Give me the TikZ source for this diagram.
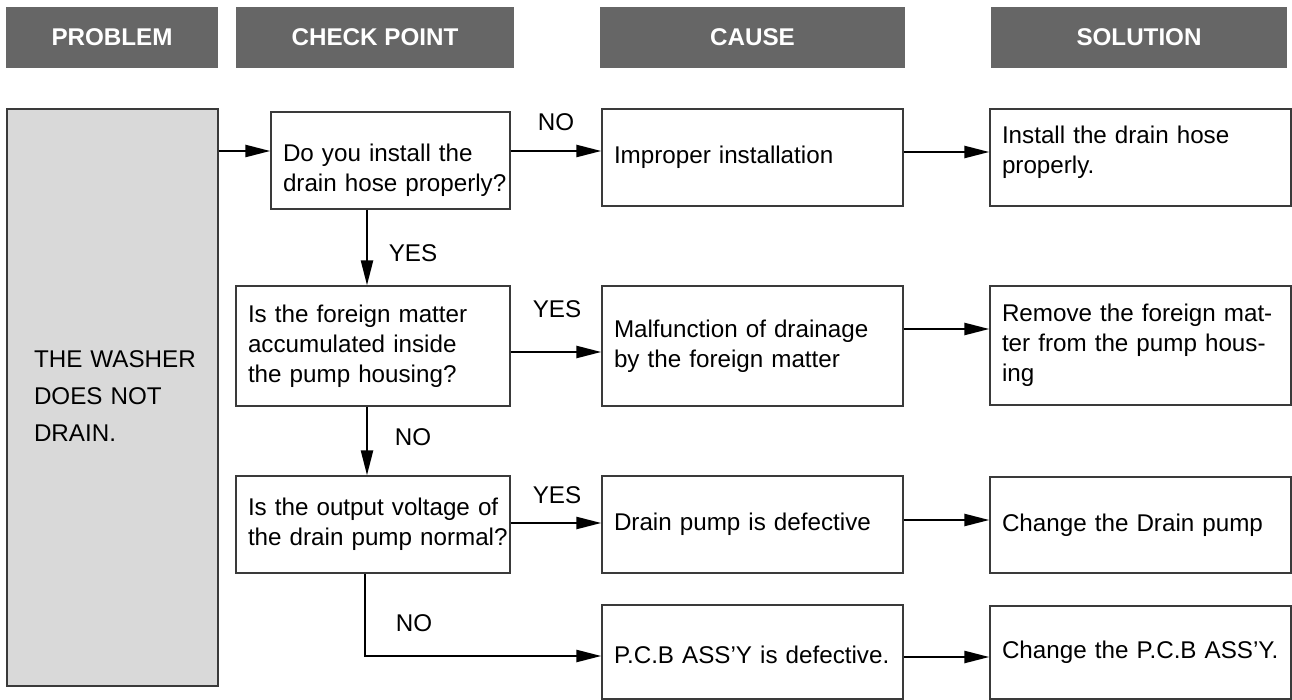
\documentclass[tikz,border=0pt]{standalone}
\usepackage{fontspec}
\setmainfont{Liberation Sans}
\usetikzlibrary{arrows.meta}
\definecolor{hdrgray}{HTML}{666666}
\definecolor{probfill}{HTML}{D9D9D9}
\definecolor{edgegray}{HTML}{3A3A3A}
\newcommand\boxlines[1]{\begin{tabular}{@{}l@{}}#1\end{tabular}}
\begin{document}
\begin{tikzpicture}[x=1pt,y=-1pt,
  hdrbox/.style={fill=hdrgray, draw=none, text=white, inner sep=0pt,
    font=\fontsize{24.2}{30}\selectfont\bfseries, minimum height=61pt},
  flowbox/.style={draw=edgegray, line width=1.3pt, fill=white, inner xsep=12pt, inner ysep=0pt,
    align=left, font=\fontsize{24.2}{30}\selectfont},
  probbox/.style={draw=edgegray, line width=1.3pt, fill=probfill, inner xsep=27pt, inner ysep=0pt,
    align=left, font=\fontsize{24.2}{37}\selectfont},
  lbl/.style={font=\fontsize{24.2}{30}\selectfont, inner sep=0pt},
  arr/.style={line width=2.4pt, -{Triangle[length=25pt,width=12pt]}}
]
\useasboundingbox (0,0) rectangle (1292,700);

% headers
\node[hdrbox, minimum width=212pt] (h1) at (112,37.5) {PROBLEM};
\node[hdrbox, minimum width=278pt] (h2) at (375,37.5) {CHECK POINT};
\node[hdrbox, minimum width=305pt] (h3) at (752.5,37.5) {CAUSE};
\node[hdrbox, minimum width=296pt] (h4) at (1139,37.5) {SOLUTION};

% problem
\node[probbox, minimum width=211pt, minimum height=577pt, text width=157pt] (prob) at (112.5,397.5)
  {\boxlines{THE WASHER\\DOES NOT\\DRAIN.}};

% check points
\node[flowbox, minimum width=239pt, minimum height=97pt, text width=215pt] (q1) at (390.5,160.5)
  {\boxlines{\rule{0pt}{41pt}Do you install the\\drain hose properly?}};
\node[flowbox, minimum width=274pt, minimum height=120pt, text width=250pt] (q2) at (373,346)
  {\boxlines{Is the foreign matter\\accumulated inside\\the pump housing?}};
\node[flowbox, minimum width=274pt, minimum height=97pt, text width=250pt] (q3) at (373,524.5)
  {\boxlines{Is the output voltage of\\the drain pump normal?}};

% causes
\node[flowbox, minimum width=301pt, minimum height=97pt, text width=277pt] (c1) at (752.5,157.5)
  {\boxlines{Improper installation}};
\node[flowbox, minimum width=301pt, minimum height=120pt, text width=277pt] (c2) at (752.5,346)
  {\boxlines{Malfunction of drainage\\by the foreign matter}};
\node[flowbox, minimum width=301pt, minimum height=97pt, text width=277pt] (c3) at (752.5,524.5)
  {\boxlines{Drain pump is defective}};
\node[flowbox, minimum width=301pt, minimum height=94pt, text width=277pt] (c4) at (752.5,652)
  {\boxlines{\rule{0pt}{31pt}P.C.B ASS’Y is defective.}};

% solutions
\node[flowbox, minimum width=301pt, minimum height=97pt, text width=277pt] (s1) at (1140.5,157.5)
  {\boxlines{Install the drain hose\\properly.\rule[-19pt]{0pt}{0pt}}};
\node[flowbox, minimum width=301pt, minimum height=119pt, text width=277pt] (s2) at (1140.5,345.5)
  {\boxlines{Remove the foreign mat-\\ter from the pump hous-\\ing}};
\node[flowbox, minimum width=301pt, minimum height=96pt, text width=277pt] (s3) at (1140.5,525)
  {\boxlines{Change the Drain pump}};
\node[flowbox, minimum width=301pt, minimum height=93pt, text width=277pt] (s4) at (1140.5,652.5)
  {\boxlines{Change the P.C.B ASS’Y.}};

% connectors
\draw[arr] (prob.east |- 0,151) -- (q1.west |- 0,151);
\draw[arr] (q1.east |- 0,151) -- (c1.west |- 0,151);
\draw[arr] (c1.east |- 0,152) -- (s1.west |- 0,152);
\draw[arr] (q1.south -| 367,0) -- (q2.north -| 367,0);
\draw[arr] (q2.east |- 0,352) -- (c2.west |- 0,352);
\draw[arr] (c2.east |- 0,329) -- (s2.west |- 0,329);
\draw[arr] (q2.south -| 367,0) -- (q3.north -| 367,0);
\draw[arr] (q3.east |- 0,523) -- (c3.west |- 0,523);
\draw[arr] (c3.east |- 0,520) -- (s3.west |- 0,520);
\draw[arr] (q3.south -| 365,0) |- (c4.west |- 0,656);
\draw[arr] (c4.east |- 0,657) -- (s4.west |- 0,657);

% labels
\node[lbl] (l1) at (556,122) {NO};
\node[lbl] (l2) at (413,253) {YES};
\node[lbl] (l3) at (557,309) {YES};
\node[lbl] (l4) at (413,437) {NO};
\node[lbl] (l5) at (557,495) {YES};
\node[lbl] (l6) at (414,623) {NO};
\end{tikzpicture}
\end{document}
